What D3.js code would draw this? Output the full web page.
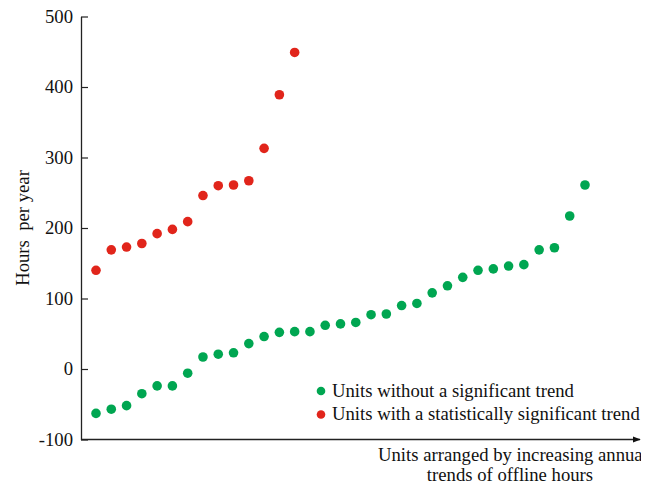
<!DOCTYPE html>
<html>
<head>
<meta charset="utf-8">
<script src="https://cdn.jsdelivr.net/npm/d3@7"></script>
<style>
  body { margin: 0; background: #fff; }
  svg { display: block; }
  svg text { font-family: "Liberation Serif", "Times New Roman", serif; }
</style>
</head>
<body>
<svg id="chart" width="654" height="486"></svg>
<script>
/* data (hours per year, units sorted by trend) */
const redValues = [140, 169, 173, 178, 192, 198, 209, 246, 260, 261, 267, 313, 389, 449];
const greenValues = [-63, -57, -52, -35, -24, -24, -6, 17, 21, 23, 36, 46, 52, 53, 53, 62,
    64, 66, 77, 78, 90, 93, 108, 118, 130, 140, 142, 146, 148, 169, 172, 217, 261];
const yTicks = [-100, 0, 100, 200, 300, 400, 500];
const legendLabels = ["Units without a significant trend", "Units with a statistically significant trend"];

const green = "#00a651";
const red = "#e1251b";
const fontSize = "18.7px";

const svg = d3.select("#chart");

/* clip everything at the right edge like the original crop */
svg.append("defs").append("clipPath").attr("id", "crop")
    .append("rect").attr("x", 0).attr("y", 0).attr("width", 641).attr("height", 486);

const g = svg.append("g").attr("clip-path", "url(#crop)");

const y = d3.scaleLinear().domain([-100, 500]).range([439.5, 16.5]);
const x = d3.scaleLinear().domain([0, 32]).range([96, 585]);

/* y axis, ticks pointing inwards */
const yAxis = d3.axisRight(y).tickValues(yTicks).tickSize(7).tickSizeOuter(0)
    .tickFormat(d => String(d)); // plain hyphen, not a minus sign
g.append("g")
    .attr("transform", "translate(81,0)")
    .call(yAxis)
    .attr("font-family", null)
    .call(a => a.select(".domain").attr("stroke", "#222").attr("stroke-width", 1.3))
    .call(a => a.selectAll(".tick line").attr("stroke", "#222").attr("stroke-width", 1.2))
    .call(a => a.selectAll(".tick text")
        .attr("x", -8)
        .attr("text-anchor", "end")
        .attr("fill", "#111")
        .style("font-size", fontSize));

/* x axis with arrow */
g.append("defs").append("marker")
    .attr("id", "arrow")
    .attr("viewBox", "0 0 10 10")
    .attr("refX", 9).attr("refY", 5)
    .attr("markerWidth", 6).attr("markerHeight", 6)
    .attr("orient", "auto")
    .append("path").attr("d", "M0,1 L10,5 L0,9 Z").attr("fill", "#111");

g.append("line")
    .attr("x1", 81).attr("x2", 640)
    .attr("y1", y(-100)).attr("y2", y(-100))
    .attr("stroke", "#222").attr("stroke-width", 1.3)
    .attr("marker-end", "url(#arrow)");

/* points */
g.selectAll(".green").data(greenValues).enter()
    .append("circle").attr("class", "green")
    .attr("cx", (d, i) => x(i)).attr("cy", d => y(d))
    .attr("r", 4.8).attr("fill", green);

g.selectAll(".red").data(redValues).enter()
    .append("circle").attr("class", "red")
    .attr("cx", (d, i) => x(i)).attr("cy", d => y(d))
    .attr("r", 4.8).attr("fill", red);

/* legend */
const legend = g.append("g").attr("transform", "translate(321,391)");
legendLabels.forEach((lab, i) => {
    legend.append("circle").attr("cx", 0).attr("cy", i * 23.5).attr("r", 4.3)
        .attr("fill", i === 0 ? green : red);
    legend.append("text").attr("x", 11).attr("y", i * 23.5 + 5.5)
        .style("font-size", fontSize).attr("fill", "#111").text(lab);
});

/* axis titles */
g.append("text")
    .attr("transform", "translate(29,228) rotate(-90)")
    .attr("text-anchor", "middle")
    .style("font-size", fontSize)
    .attr("fill", "#111")
    .text("Hours\u00a0\u00a0per year");

g.append("text")
    .attr("x", 378).attr("y", 461)
    .style("font-size", fontSize).attr("fill", "#111")
    .text("Units arranged by increasing annual");

g.append("text")
    .attr("x", 510).attr("y", 481)
    .attr("text-anchor", "middle")
    .style("font-size", fontSize).attr("fill", "#111")
    .text("trends of offline hours");
</script>
</body>
</html>
